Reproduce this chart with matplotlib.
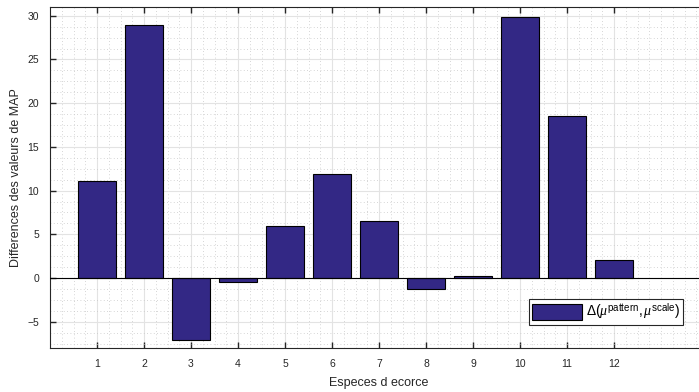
import matplotlib.pyplot as plt
import numpy as np
from matplotlib.ticker import AutoMinorLocator, MultipleLocator

# values
especes = list(range(1, 13))
diff_map = [11.1, 28.9, -7.1, -0.5, 6.0, 11.9, 6.5, -1.2, 0.2, 29.8, 18.5, 2.1]

bar_color = '#332885'
txt_color = '#262626'

plt.rcParams['font.family'] = ['Liberation Sans', 'DejaVu Sans']
plt.rcParams['mathtext.fontset'] = 'custom'
plt.rcParams['mathtext.rm'] = 'Liberation Sans'
plt.rcParams['mathtext.it'] = 'Liberation Serif:italic'

fig = plt.figure(figsize=(6.99, 3.92), dpi=100)
# axes runs past the right edge of the picture, as in the reference
ax = fig.add_axes([50 / 699, 1 - 348 / 392, 658 / 699, 341 / 392])

ax.bar(especes, diff_map, width=0.8, color=bar_color, edgecolor='black',
       linewidth=0.8, zorder=3, label=r'$\Delta(\mu^{\mathrm{pattern}},\mu^{\mathrm{scale}})$')
ax.axhline(0, color='black', linewidth=0.8, zorder=4)

ax.set_xlim(0, 14)
ax.set_ylim(-8, 31)
ax.set_xticks(especes)
ax.yaxis.set_major_locator(MultipleLocator(5))
ax.xaxis.set_minor_locator(AutoMinorLocator(4))
ax.yaxis.set_minor_locator(AutoMinorLocator(4))

ax.grid(which='major', color='#e3e3e3', linewidth=0.8, zorder=0)
ax.grid(which='minor', color='#c8c8c8', linestyle=(0, (1, 3)), linewidth=0.6, zorder=0)

ax.tick_params(which='major', direction='in', length=4, width=1.0, top=True,
               labelsize=7.5, colors=txt_color, pad=8)
ax.tick_params(which='minor', length=0)
for sp in ax.spines.values():
    sp.set_color(txt_color)
    sp.set_linewidth(0.8)

ax.set_xlabel('Especes d ecorce', fontsize=9, color=txt_color, labelpad=6)
ax.set_ylabel('Differences des valeurs de MAP', fontsize=9, color=txt_color, labelpad=4)

leg = ax.legend(loc='lower right', bbox_to_anchor=(690 / 699, 1 - 332 / 392),
                bbox_transform=fig.transFigure, fontsize=10,
                fancybox=False, framealpha=1, edgecolor='#262626',
                handlelength=3.6, handleheight=1.4, borderpad=0.2, handletextpad=0.3)
leg.get_frame().set_linewidth(0.8)

fig.savefig('out.png', dpi=100)
